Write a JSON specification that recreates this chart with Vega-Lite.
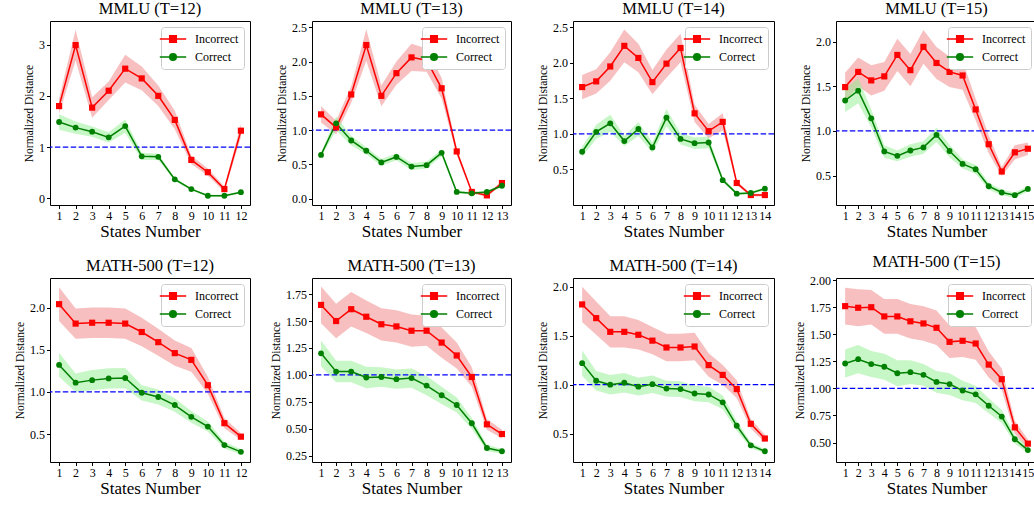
{
"$schema": "https://vega.github.io/schema/vega-lite/v6.json",
"background": "white",
"padding": {"left": 14, "top": 0, "right": 0, "bottom": 0},
"columns": 4,
"bounds": "flush",
"spacing": {"row": 73, "column": 62},
"resolve": {"scale": {"x": "independent", "y": "independent", "color": "independent"}, "legend": {"color": "independent"}, "axis": {"x": "independent", "y": "independent"}},
"datasets": {
"m12": [
{"state":1,"series":"Incorrect","value":1.80,"lower":1.65,"upper":1.95},
{"state":2,"series":"Incorrect","value":2.99,"lower":2.69,"upper":3.29},
{"state":3,"series":"Incorrect","value":1.77,"lower":1.57,"upper":1.97},
{"state":4,"series":"Incorrect","value":2.10,"lower":1.92,"upper":2.28},
{"state":5,"series":"Incorrect","value":2.53,"lower":2.26,"upper":2.80},
{"state":6,"series":"Incorrect","value":2.34,"lower":2.11,"upper":2.57},
{"state":7,"series":"Incorrect","value":2.00,"lower":1.80,"upper":2.20},
{"state":8,"series":"Incorrect","value":1.53,"lower":1.35,"upper":1.71},
{"state":9,"series":"Incorrect","value":0.75,"lower":0.67,"upper":0.83},
{"state":10,"series":"Incorrect","value":0.51,"lower":0.44,"upper":0.58},
{"state":11,"series":"Incorrect","value":0.18,"lower":0.13,"upper":0.23},
{"state":12,"series":"Incorrect","value":1.32,"lower":1.19,"upper":1.45},
{"state":1,"series":"Correct","value":1.49,"lower":1.34,"upper":1.64},
{"state":2,"series":"Correct","value":1.38,"lower":1.26,"upper":1.50},
{"state":3,"series":"Correct","value":1.30,"lower":1.20,"upper":1.40},
{"state":4,"series":"Correct","value":1.19,"lower":1.09,"upper":1.29},
{"state":5,"series":"Correct","value":1.41,"lower":1.28,"upper":1.54},
{"state":6,"series":"Correct","value":0.82,"lower":0.75,"upper":0.89},
{"state":7,"series":"Correct","value":0.81,"lower":0.75,"upper":0.87},
{"state":8,"series":"Correct","value":0.37,"lower":0.34,"upper":0.40},
{"state":9,"series":"Correct","value":0.18,"lower":0.16,"upper":0.20},
{"state":10,"series":"Correct","value":0.05,"lower":0.03,"upper":0.07},
{"state":11,"series":"Correct","value":0.05,"lower":0.03,"upper":0.07},
{"state":12,"series":"Correct","value":0.12,"lower":0.10,"upper":0.14}
],
"m13": [
{"state":1,"series":"Incorrect","value":1.23,"lower":1.11,"upper":1.35},
{"state":2,"series":"Incorrect","value":1.04,"lower":0.94,"upper":1.14},
{"state":3,"series":"Incorrect","value":1.52,"lower":1.40,"upper":1.64},
{"state":4,"series":"Incorrect","value":2.24,"lower":2.01,"upper":2.47},
{"state":5,"series":"Incorrect","value":1.50,"lower":1.35,"upper":1.65},
{"state":6,"series":"Incorrect","value":1.83,"lower":1.66,"upper":2.00},
{"state":7,"series":"Incorrect","value":2.06,"lower":1.86,"upper":2.26},
{"state":8,"series":"Incorrect","value":2.02,"lower":1.85,"upper":2.19},
{"state":9,"series":"Incorrect","value":1.61,"lower":1.46,"upper":1.76},
{"state":10,"series":"Incorrect","value":0.69,"lower":0.64,"upper":0.74},
{"state":11,"series":"Incorrect","value":0.10,"lower":0.08,"upper":0.12},
{"state":12,"series":"Incorrect","value":0.05,"lower":0.03,"upper":0.07},
{"state":13,"series":"Incorrect","value":0.23,"lower":0.20,"upper":0.26},
{"state":1,"series":"Correct","value":0.64,"lower":0.61,"upper":0.67},
{"state":2,"series":"Correct","value":1.10,"lower":1.00,"upper":1.20},
{"state":3,"series":"Correct","value":0.85,"lower":0.78,"upper":0.92},
{"state":4,"series":"Correct","value":0.70,"lower":0.65,"upper":0.75},
{"state":5,"series":"Correct","value":0.53,"lower":0.48,"upper":0.58},
{"state":6,"series":"Correct","value":0.61,"lower":0.56,"upper":0.66},
{"state":7,"series":"Correct","value":0.47,"lower":0.42,"upper":0.52},
{"state":8,"series":"Correct","value":0.49,"lower":0.44,"upper":0.54},
{"state":9,"series":"Correct","value":0.67,"lower":0.62,"upper":0.72},
{"state":10,"series":"Correct","value":0.10,"lower":0.08,"upper":0.12},
{"state":11,"series":"Correct","value":0.08,"lower":0.06,"upper":0.10},
{"state":12,"series":"Correct","value":0.10,"lower":0.08,"upper":0.12},
{"state":13,"series":"Correct","value":0.19,"lower":0.17,"upper":0.21}
],
"m14": [
{"state":1,"series":"Incorrect","value":1.66,"lower":1.49,"upper":1.83},
{"state":2,"series":"Incorrect","value":1.74,"lower":1.57,"upper":1.91},
{"state":3,"series":"Incorrect","value":1.95,"lower":1.75,"upper":2.15},
{"state":4,"series":"Incorrect","value":2.24,"lower":2.01,"upper":2.47},
{"state":5,"series":"Incorrect","value":2.07,"lower":1.87,"upper":2.27},
{"state":6,"series":"Incorrect","value":1.73,"lower":1.56,"upper":1.90},
{"state":7,"series":"Incorrect","value":1.99,"lower":1.79,"upper":2.19},
{"state":8,"series":"Incorrect","value":2.21,"lower":2.01,"upper":2.41},
{"state":9,"series":"Incorrect","value":1.29,"lower":1.17,"upper":1.41},
{"state":10,"series":"Incorrect","value":1.04,"lower":0.94,"upper":1.14},
{"state":11,"series":"Incorrect","value":1.17,"lower":1.05,"upper":1.29},
{"state":12,"series":"Incorrect","value":0.31,"lower":0.28,"upper":0.34},
{"state":13,"series":"Incorrect","value":0.14,"lower":0.12,"upper":0.16},
{"state":14,"series":"Incorrect","value":0.14,"lower":0.12,"upper":0.16},
{"state":1,"series":"Correct","value":0.75,"lower":0.68,"upper":0.82},
{"state":2,"series":"Correct","value":1.03,"lower":0.93,"upper":1.13},
{"state":3,"series":"Correct","value":1.15,"lower":1.03,"upper":1.27},
{"state":4,"series":"Correct","value":0.90,"lower":0.83,"upper":0.97},
{"state":5,"series":"Correct","value":1.07,"lower":0.97,"upper":1.17},
{"state":6,"series":"Correct","value":0.81,"lower":0.74,"upper":0.88},
{"state":7,"series":"Correct","value":1.23,"lower":1.11,"upper":1.35},
{"state":8,"series":"Correct","value":0.93,"lower":0.85,"upper":1.01},
{"state":9,"series":"Correct","value":0.87,"lower":0.79,"upper":0.95},
{"state":10,"series":"Correct","value":0.88,"lower":0.80,"upper":0.96},
{"state":11,"series":"Correct","value":0.35,"lower":0.32,"upper":0.38},
{"state":12,"series":"Correct","value":0.16,"lower":0.14,"upper":0.18},
{"state":13,"series":"Correct","value":0.17,"lower":0.15,"upper":0.19},
{"state":14,"series":"Correct","value":0.23,"lower":0.21,"upper":0.25}
],
"m15": [
{"state":1,"series":"Incorrect","value":1.49,"lower":1.33,"upper":1.65},
{"state":2,"series":"Incorrect","value":1.66,"lower":1.50,"upper":1.82},
{"state":3,"series":"Incorrect","value":1.565,"lower":1.395,"upper":1.735},
{"state":4,"series":"Incorrect","value":1.61,"lower":1.45,"upper":1.77},
{"state":5,"series":"Incorrect","value":1.85,"lower":1.67,"upper":2.03},
{"state":6,"series":"Incorrect","value":1.68,"lower":1.50,"upper":1.86},
{"state":7,"series":"Incorrect","value":1.94,"lower":1.75,"upper":2.13},
{"state":8,"series":"Incorrect","value":1.76,"lower":1.58,"upper":1.94},
{"state":9,"series":"Incorrect","value":1.66,"lower":1.49,"upper":1.83},
{"state":10,"series":"Incorrect","value":1.62,"lower":1.46,"upper":1.78},
{"state":11,"series":"Incorrect","value":1.24,"lower":1.12,"upper":1.36},
{"state":12,"series":"Incorrect","value":0.85,"lower":0.75,"upper":0.95},
{"state":13,"series":"Incorrect","value":0.545,"lower":0.495,"upper":0.595},
{"state":14,"series":"Incorrect","value":0.76,"lower":0.68,"upper":0.84},
{"state":15,"series":"Incorrect","value":0.80,"lower":0.73,"upper":0.87},
{"state":1,"series":"Correct","value":1.34,"lower":1.21,"upper":1.47},
{"state":2,"series":"Correct","value":1.45,"lower":1.31,"upper":1.59},
{"state":3,"series":"Correct","value":1.14,"lower":1.04,"upper":1.24},
{"state":4,"series":"Correct","value":0.77,"lower":0.70,"upper":0.84},
{"state":5,"series":"Correct","value":0.72,"lower":0.66,"upper":0.78},
{"state":6,"series":"Correct","value":0.78,"lower":0.71,"upper":0.85},
{"state":7,"series":"Correct","value":0.815,"lower":0.745,"upper":0.885},
{"state":8,"series":"Correct","value":0.955,"lower":0.875,"upper":1.035},
{"state":9,"series":"Correct","value":0.775,"lower":0.705,"upper":0.845},
{"state":10,"series":"Correct","value":0.63,"lower":0.58,"upper":0.68},
{"state":11,"series":"Correct","value":0.57,"lower":0.52,"upper":0.62},
{"state":12,"series":"Correct","value":0.38,"lower":0.34,"upper":0.42},
{"state":13,"series":"Correct","value":0.31,"lower":0.28,"upper":0.34},
{"state":14,"series":"Correct","value":0.28,"lower":0.25,"upper":0.31},
{"state":15,"series":"Correct","value":0.35,"lower":0.32,"upper":0.38}
],
"h12": [
{"state":1,"series":"Incorrect","value":2.04,"lower":1.84,"upper":2.24},
{"state":2,"series":"Incorrect","value":1.81,"lower":1.63,"upper":1.99},
{"state":3,"series":"Incorrect","value":1.82,"lower":1.64,"upper":2.00},
{"state":4,"series":"Incorrect","value":1.82,"lower":1.64,"upper":2.00},
{"state":5,"series":"Incorrect","value":1.81,"lower":1.63,"upper":1.99},
{"state":6,"series":"Incorrect","value":1.71,"lower":1.54,"upper":1.88},
{"state":7,"series":"Incorrect","value":1.59,"lower":1.43,"upper":1.75},
{"state":8,"series":"Incorrect","value":1.46,"lower":1.31,"upper":1.61},
{"state":9,"series":"Incorrect","value":1.38,"lower":1.24,"upper":1.52},
{"state":10,"series":"Incorrect","value":1.08,"lower":0.98,"upper":1.18},
{"state":11,"series":"Incorrect","value":0.63,"lower":0.57,"upper":0.69},
{"state":12,"series":"Incorrect","value":0.47,"lower":0.43,"upper":0.51},
{"state":1,"series":"Correct","value":1.32,"lower":1.18,"upper":1.46},
{"state":2,"series":"Correct","value":1.11,"lower":1.00,"upper":1.22},
{"state":3,"series":"Correct","value":1.14,"lower":1.02,"upper":1.26},
{"state":4,"series":"Correct","value":1.16,"lower":1.04,"upper":1.28},
{"state":5,"series":"Correct","value":1.165,"lower":1.045,"upper":1.285},
{"state":6,"series":"Correct","value":0.99,"lower":0.90,"upper":1.08},
{"state":7,"series":"Correct","value":0.94,"lower":0.85,"upper":1.03},
{"state":8,"series":"Correct","value":0.845,"lower":0.765,"upper":0.925},
{"state":9,"series":"Correct","value":0.705,"lower":0.635,"upper":0.775},
{"state":10,"series":"Correct","value":0.59,"lower":0.53,"upper":0.65},
{"state":11,"series":"Correct","value":0.37,"lower":0.33,"upper":0.41},
{"state":12,"series":"Correct","value":0.29,"lower":0.26,"upper":0.32}
],
"h13": [
{"state":1,"series":"Incorrect","value":1.65,"lower":1.48,"upper":1.82},
{"state":2,"series":"Incorrect","value":1.50,"lower":1.34,"upper":1.66},
{"state":3,"series":"Incorrect","value":1.61,"lower":1.45,"upper":1.77},
{"state":4,"series":"Incorrect","value":1.54,"lower":1.39,"upper":1.69},
{"state":5,"series":"Incorrect","value":1.47,"lower":1.32,"upper":1.62},
{"state":6,"series":"Incorrect","value":1.45,"lower":1.30,"upper":1.60},
{"state":7,"series":"Incorrect","value":1.41,"lower":1.26,"upper":1.56},
{"state":8,"series":"Incorrect","value":1.41,"lower":1.27,"upper":1.55},
{"state":9,"series":"Incorrect","value":1.30,"lower":1.16,"upper":1.44},
{"state":10,"series":"Incorrect","value":1.18,"lower":1.06,"upper":1.30},
{"state":11,"series":"Incorrect","value":0.98,"lower":0.89,"upper":1.07},
{"state":12,"series":"Incorrect","value":0.54,"lower":0.49,"upper":0.59},
{"state":13,"series":"Incorrect","value":0.45,"lower":0.41,"upper":0.49},
{"state":1,"series":"Correct","value":1.20,"lower":1.08,"upper":1.32},
{"state":2,"series":"Correct","value":1.03,"lower":0.93,"upper":1.13},
{"state":3,"series":"Correct","value":1.03,"lower":0.93,"upper":1.13},
{"state":4,"series":"Correct","value":0.975,"lower":0.875,"upper":1.075},
{"state":5,"series":"Correct","value":0.98,"lower":0.89,"upper":1.07},
{"state":6,"series":"Correct","value":0.96,"lower":0.87,"upper":1.05},
{"state":7,"series":"Correct","value":0.97,"lower":0.88,"upper":1.06},
{"state":8,"series":"Correct","value":0.90,"lower":0.81,"upper":0.99},
{"state":9,"series":"Correct","value":0.81,"lower":0.73,"upper":0.89},
{"state":10,"series":"Correct","value":0.72,"lower":0.65,"upper":0.79},
{"state":11,"series":"Correct","value":0.55,"lower":0.50,"upper":0.60},
{"state":12,"series":"Correct","value":0.32,"lower":0.29,"upper":0.35},
{"state":13,"series":"Correct","value":0.29,"lower":0.27,"upper":0.31}
],
"h14": [
{"state":1,"series":"Incorrect","value":1.82,"lower":1.64,"upper":2.00},
{"state":2,"series":"Incorrect","value":1.68,"lower":1.51,"upper":1.85},
{"state":3,"series":"Incorrect","value":1.54,"lower":1.38,"upper":1.70},
{"state":4,"series":"Incorrect","value":1.54,"lower":1.38,"upper":1.70},
{"state":5,"series":"Incorrect","value":1.51,"lower":1.36,"upper":1.66},
{"state":6,"series":"Incorrect","value":1.45,"lower":1.31,"upper":1.59},
{"state":7,"series":"Incorrect","value":1.38,"lower":1.24,"upper":1.52},
{"state":8,"series":"Incorrect","value":1.38,"lower":1.24,"upper":1.52},
{"state":9,"series":"Incorrect","value":1.39,"lower":1.25,"upper":1.53},
{"state":10,"series":"Incorrect","value":1.20,"lower":1.08,"upper":1.32},
{"state":11,"series":"Incorrect","value":1.10,"lower":1.00,"upper":1.20},
{"state":12,"series":"Incorrect","value":0.955,"lower":0.865,"upper":1.045},
{"state":13,"series":"Incorrect","value":0.60,"lower":0.55,"upper":0.65},
{"state":14,"series":"Incorrect","value":0.45,"lower":0.41,"upper":0.49},
{"state":1,"series":"Correct","value":1.22,"lower":1.09,"upper":1.35},
{"state":2,"series":"Correct","value":1.04,"lower":0.94,"upper":1.14},
{"state":3,"series":"Correct","value":1.00,"lower":0.90,"upper":1.10},
{"state":4,"series":"Correct","value":1.02,"lower":0.92,"upper":1.12},
{"state":5,"series":"Correct","value":0.98,"lower":0.89,"upper":1.07},
{"state":6,"series":"Correct","value":1.005,"lower":0.915,"upper":1.095},
{"state":7,"series":"Correct","value":0.96,"lower":0.88,"upper":1.04},
{"state":8,"series":"Correct","value":0.955,"lower":0.875,"upper":1.035},
{"state":9,"series":"Correct","value":0.91,"lower":0.83,"upper":0.99},
{"state":10,"series":"Correct","value":0.90,"lower":0.82,"upper":0.98},
{"state":11,"series":"Correct","value":0.82,"lower":0.75,"upper":0.89},
{"state":12,"series":"Correct","value":0.58,"lower":0.53,"upper":0.63},
{"state":13,"series":"Correct","value":0.38,"lower":0.35,"upper":0.41},
{"state":14,"series":"Correct","value":0.32,"lower":0.30,"upper":0.34}
],
"h15": [
{"state":1,"series":"Incorrect","value":1.76,"lower":1.59,"upper":1.93},
{"state":2,"series":"Incorrect","value":1.745,"lower":1.575,"upper":1.915},
{"state":3,"series":"Incorrect","value":1.75,"lower":1.59,"upper":1.91},
{"state":4,"series":"Incorrect","value":1.665,"lower":1.505,"upper":1.825},
{"state":5,"series":"Incorrect","value":1.665,"lower":1.505,"upper":1.825},
{"state":6,"series":"Incorrect","value":1.62,"lower":1.46,"upper":1.78},
{"state":7,"series":"Incorrect","value":1.60,"lower":1.44,"upper":1.76},
{"state":8,"series":"Incorrect","value":1.56,"lower":1.40,"upper":1.72},
{"state":9,"series":"Incorrect","value":1.43,"lower":1.28,"upper":1.58},
{"state":10,"series":"Incorrect","value":1.44,"lower":1.29,"upper":1.59},
{"state":11,"series":"Incorrect","value":1.415,"lower":1.265,"upper":1.565},
{"state":12,"series":"Incorrect","value":1.22,"lower":1.10,"upper":1.34},
{"state":13,"series":"Incorrect","value":1.085,"lower":0.985,"upper":1.185},
{"state":14,"series":"Incorrect","value":0.64,"lower":0.58,"upper":0.70},
{"state":15,"series":"Incorrect","value":0.49,"lower":0.45,"upper":0.53},
{"state":1,"series":"Correct","value":1.23,"lower":1.10,"upper":1.36},
{"state":2,"series":"Correct","value":1.27,"lower":1.14,"upper":1.40},
{"state":3,"series":"Correct","value":1.225,"lower":1.105,"upper":1.345},
{"state":4,"series":"Correct","value":1.20,"lower":1.08,"upper":1.32},
{"state":5,"series":"Correct","value":1.14,"lower":1.02,"upper":1.26},
{"state":6,"series":"Correct","value":1.15,"lower":1.04,"upper":1.26},
{"state":7,"series":"Correct","value":1.125,"lower":1.025,"upper":1.225},
{"state":8,"series":"Correct","value":1.06,"lower":0.96,"upper":1.16},
{"state":9,"series":"Correct","value":1.04,"lower":0.94,"upper":1.14},
{"state":10,"series":"Correct","value":0.98,"lower":0.89,"upper":1.07},
{"state":11,"series":"Correct","value":0.945,"lower":0.865,"upper":1.025},
{"state":12,"series":"Correct","value":0.84,"lower":0.77,"upper":0.91},
{"state":13,"series":"Correct","value":0.74,"lower":0.68,"upper":0.80},
{"state":14,"series":"Correct","value":0.53,"lower":0.49,"upper":0.57},
{"state":15,"series":"Correct","value":0.43,"lower":0.40,"upper":0.46}
]
},
"concat": [
{"title": "MMLU (T=12)", "width": 200, "height": 184, "data": {"name": "m12"},
 "layer": [
  {"transform": [{"filter": "datum.series === 'Incorrect'"}], "mark": {"type": "area", "color": "#f08080", "opacity": 0.5}, "encoding": {
    "x": {"field": "state", "type": "quantitative", "title": "States Number", "scale": {"domain": [0.45, 12.55], "nice": false, "zero": false}, "axis": {"values": [1,2,3,4,5,6,7,8,9,10,11,12], "format": "d"}},
    "y": {"field": "lower", "type": "quantitative", "title": "Normalized Distance", "stack": null, "scale": {"domain": [-0.13, 3.46], "nice": false, "zero": false}, "axis": {"values": [0,1,2,3], "format": "d"}},
    "y2": {"field": "upper"}}},
  {"transform": [{"filter": "datum.series === 'Correct'"}], "mark": {"type": "area", "color": "#90ee90", "opacity": 0.5}, "encoding": {
    "x": {"field": "state", "type": "quantitative", "title": "States Number", "scale": {"domain": [0.45, 12.55], "nice": false, "zero": false}, "axis": {"values": [1,2,3,4,5,6,7,8,9,10,11,12], "format": "d"}},
    "y": {"field": "lower", "type": "quantitative", "title": "Normalized Distance", "stack": null, "scale": {"domain": [-0.13, 3.46], "nice": false, "zero": false}, "axis": {"values": [0,1,2,3], "format": "d"}},
    "y2": {"field": "upper"}}},
  {"data": {"values": [{"ref": 1}]}, "mark": {"type": "rule", "color": "#0000ff", "strokeDash": [5.5, 2.4], "strokeWidth": 1.3}, "encoding": {"y": {"field": "ref", "type": "quantitative", "title": "Normalized Distance", "scale": {"domain": [-0.13, 3.46], "nice": false, "zero": false}, "axis": {"values": [0,1,2,3], "format": "d"}}}},
  {"mark": {"type": "line", "strokeWidth": 1.5}, "encoding": {
    "x": {"field": "state", "type": "quantitative", "title": "States Number", "scale": {"domain": [0.45, 12.55], "nice": false, "zero": false}, "axis": {"values": [1,2,3,4,5,6,7,8,9,10,11,12], "format": "d"}},
    "y": {"field": "value", "type": "quantitative", "title": "Normalized Distance", "scale": {"domain": [-0.13, 3.46], "nice": false, "zero": false}, "axis": {"values": [0,1,2,3], "format": "d"}},
    "color": {"field": "series", "type": "nominal", "title": null, "scale": {"domain": ["Incorrect","Correct"], "range": ["#ff0000","#008000"]}, "legend": {"title": null, "orient": "top-right", "offset": 6, "padding": 5, "fillColor": "white", "strokeColor": "#cccccc", "cornerRadius": 3, "labelFont": "Liberation Serif", "labelFontSize": 12, "labelColor": "black", "symbolSize": 144, "labelOffset": 15, "rowPadding": 4, "encode": {"legend": {"update": {"stroke": {"value": "#cccccc"}, "strokeWidth": {"value": 1}, "fill": {"value": "#ffffff"}, "cornerRadius": {"value": 3}}}, "labels": {"update": {"font": {"value": "Liberation Serif"}, "fontSize": {"value": 12}, "fill": {"value": "#000000"}}}, "symbols": {"update": {"shape": {"signal": "datum.value === 'Incorrect' ? 'M-2.2,0H2.2M-0.55,-0.55H0.55V0.55H-0.55Z' : 'M-2.2,0H2.2M0.55,0A0.55,0.55 0 1,1 -0.55,0A0.55,0.55 0 1,1 0.55,0Z'"}, "fill": {"signal": "datum.value === 'Incorrect' ? '#ff0000' : '#008000'"}, "stroke": {"signal": "datum.value === 'Incorrect' ? '#ff0000' : '#008000'"}, "strokeWidth": {"value": 1.5}, "size": {"value": 144}, "opacity": {"value": 1}}}}}}}},
  {"transform": [{"filter": "datum.series === 'Incorrect'"}], "mark": {"type": "point", "shape": "square", "filled": true, "color": "#ff0000", "opacity": 1, "size": 38}, "encoding": {
    "x": {"field": "state", "type": "quantitative", "title": "States Number", "scale": {"domain": [0.45, 12.55], "nice": false, "zero": false}, "axis": {"values": [1,2,3,4,5,6,7,8,9,10,11,12], "format": "d"}},
    "y": {"field": "value", "type": "quantitative", "title": "Normalized Distance", "scale": {"domain": [-0.13, 3.46], "nice": false, "zero": false}, "axis": {"values": [0,1,2,3], "format": "d"}}}},
  {"transform": [{"filter": "datum.series === 'Correct'"}], "mark": {"type": "point", "shape": "circle", "filled": true, "color": "#008000", "opacity": 1, "size": 34}, "encoding": {
    "x": {"field": "state", "type": "quantitative", "title": "States Number", "scale": {"domain": [0.45, 12.55], "nice": false, "zero": false}, "axis": {"values": [1,2,3,4,5,6,7,8,9,10,11,12], "format": "d"}},
    "y": {"field": "value", "type": "quantitative", "title": "Normalized Distance", "scale": {"domain": [-0.13, 3.46], "nice": false, "zero": false}, "axis": {"values": [0,1,2,3], "format": "d"}}}}
 ]},
{"title": "MMLU (T=13)", "width": 199, "height": 184, "data": {"name": "m13"},
 "layer": [
  {"transform": [{"filter": "datum.series === 'Incorrect'"}], "mark": {"type": "area", "color": "#f08080", "opacity": 0.5}, "encoding": {
    "x": {"field": "state", "type": "quantitative", "title": "States Number", "scale": {"domain": [0.4, 13.6], "nice": false, "zero": false}, "axis": {"values": [1,2,3,4,5,6,7,8,9,10,11,12,13], "format": "d"}},
    "y": {"field": "lower", "type": "quantitative", "title": "Normalized Distance", "stack": null, "scale": {"domain": [-0.09, 2.59], "nice": false, "zero": false}, "axis": {"values": [0,0.5,1,1.5,2,2.5], "format": ".1f"}},
    "y2": {"field": "upper"}}},
  {"transform": [{"filter": "datum.series === 'Correct'"}], "mark": {"type": "area", "color": "#90ee90", "opacity": 0.5}, "encoding": {
    "x": {"field": "state", "type": "quantitative", "title": "States Number", "scale": {"domain": [0.4, 13.6], "nice": false, "zero": false}, "axis": {"values": [1,2,3,4,5,6,7,8,9,10,11,12,13], "format": "d"}},
    "y": {"field": "lower", "type": "quantitative", "title": "Normalized Distance", "stack": null, "scale": {"domain": [-0.09, 2.59], "nice": false, "zero": false}, "axis": {"values": [0,0.5,1,1.5,2,2.5], "format": ".1f"}},
    "y2": {"field": "upper"}}},
  {"data": {"values": [{"ref": 1}]}, "mark": {"type": "rule", "color": "#0000ff", "strokeDash": [5.5, 2.4], "strokeWidth": 1.3}, "encoding": {"y": {"field": "ref", "type": "quantitative", "title": "Normalized Distance", "scale": {"domain": [-0.09, 2.59], "nice": false, "zero": false}, "axis": {"values": [0,0.5,1,1.5,2,2.5], "format": ".1f"}}}},
  {"mark": {"type": "line", "strokeWidth": 1.5}, "encoding": {
    "x": {"field": "state", "type": "quantitative", "title": "States Number", "scale": {"domain": [0.4, 13.6], "nice": false, "zero": false}, "axis": {"values": [1,2,3,4,5,6,7,8,9,10,11,12,13], "format": "d"}},
    "y": {"field": "value", "type": "quantitative", "title": "Normalized Distance", "scale": {"domain": [-0.09, 2.59], "nice": false, "zero": false}, "axis": {"values": [0,0.5,1,1.5,2,2.5], "format": ".1f"}},
    "color": {"field": "series", "type": "nominal", "title": null, "scale": {"domain": ["Incorrect","Correct"], "range": ["#ff0000","#008000"]}, "legend": {"title": null, "orient": "top-right", "offset": 6, "padding": 5, "fillColor": "white", "strokeColor": "#cccccc", "cornerRadius": 3, "labelFont": "Liberation Serif", "labelFontSize": 12, "labelColor": "black", "symbolSize": 144, "labelOffset": 15, "rowPadding": 4, "encode": {"legend": {"update": {"stroke": {"value": "#cccccc"}, "strokeWidth": {"value": 1}, "fill": {"value": "#ffffff"}, "cornerRadius": {"value": 3}}}, "labels": {"update": {"font": {"value": "Liberation Serif"}, "fontSize": {"value": 12}, "fill": {"value": "#000000"}}}, "symbols": {"update": {"shape": {"signal": "datum.value === 'Incorrect' ? 'M-2.2,0H2.2M-0.55,-0.55H0.55V0.55H-0.55Z' : 'M-2.2,0H2.2M0.55,0A0.55,0.55 0 1,1 -0.55,0A0.55,0.55 0 1,1 0.55,0Z'"}, "fill": {"signal": "datum.value === 'Incorrect' ? '#ff0000' : '#008000'"}, "stroke": {"signal": "datum.value === 'Incorrect' ? '#ff0000' : '#008000'"}, "strokeWidth": {"value": 1.5}, "size": {"value": 144}, "opacity": {"value": 1}}}}}}}},
  {"transform": [{"filter": "datum.series === 'Incorrect'"}], "mark": {"type": "point", "shape": "square", "filled": true, "color": "#ff0000", "opacity": 1, "size": 38}, "encoding": {
    "x": {"field": "state", "type": "quantitative", "title": "States Number", "scale": {"domain": [0.4, 13.6], "nice": false, "zero": false}, "axis": {"values": [1,2,3,4,5,6,7,8,9,10,11,12,13], "format": "d"}},
    "y": {"field": "value", "type": "quantitative", "title": "Normalized Distance", "scale": {"domain": [-0.09, 2.59], "nice": false, "zero": false}, "axis": {"values": [0,0.5,1,1.5,2,2.5], "format": ".1f"}}}},
  {"transform": [{"filter": "datum.series === 'Correct'"}], "mark": {"type": "point", "shape": "circle", "filled": true, "color": "#008000", "opacity": 1, "size": 34}, "encoding": {
    "x": {"field": "state", "type": "quantitative", "title": "States Number", "scale": {"domain": [0.4, 13.6], "nice": false, "zero": false}, "axis": {"values": [1,2,3,4,5,6,7,8,9,10,11,12,13], "format": "d"}},
    "y": {"field": "value", "type": "quantitative", "title": "Normalized Distance", "scale": {"domain": [-0.09, 2.59], "nice": false, "zero": false}, "axis": {"values": [0,0.5,1,1.5,2,2.5], "format": ".1f"}}}}
 ]},
{"title": "MMLU (T=14)", "width": 201, "height": 184, "data": {"name": "m14"},
 "layer": [
  {"transform": [{"filter": "datum.series === 'Incorrect'"}], "mark": {"type": "area", "color": "#f08080", "opacity": 0.5}, "encoding": {
    "x": {"field": "state", "type": "quantitative", "title": "States Number", "scale": {"domain": [0.35, 14.65], "nice": false, "zero": false}, "axis": {"values": [1,2,3,4,5,6,7,8,9,10,11,12,13,14], "format": "d"}},
    "y": {"field": "lower", "type": "quantitative", "title": "Normalized Distance", "stack": null, "scale": {"domain": [0.0, 2.59], "nice": false, "zero": false}, "axis": {"values": [0.5,1,1.5,2,2.5], "format": ".1f"}},
    "y2": {"field": "upper"}}},
  {"transform": [{"filter": "datum.series === 'Correct'"}], "mark": {"type": "area", "color": "#90ee90", "opacity": 0.5}, "encoding": {
    "x": {"field": "state", "type": "quantitative", "title": "States Number", "scale": {"domain": [0.35, 14.65], "nice": false, "zero": false}, "axis": {"values": [1,2,3,4,5,6,7,8,9,10,11,12,13,14], "format": "d"}},
    "y": {"field": "lower", "type": "quantitative", "title": "Normalized Distance", "stack": null, "scale": {"domain": [0.0, 2.59], "nice": false, "zero": false}, "axis": {"values": [0.5,1,1.5,2,2.5], "format": ".1f"}},
    "y2": {"field": "upper"}}},
  {"data": {"values": [{"ref": 1}]}, "mark": {"type": "rule", "color": "#0000ff", "strokeDash": [5.5, 2.4], "strokeWidth": 1.3}, "encoding": {"y": {"field": "ref", "type": "quantitative", "title": "Normalized Distance", "scale": {"domain": [0.0, 2.59], "nice": false, "zero": false}, "axis": {"values": [0.5,1,1.5,2,2.5], "format": ".1f"}}}},
  {"mark": {"type": "line", "strokeWidth": 1.5}, "encoding": {
    "x": {"field": "state", "type": "quantitative", "title": "States Number", "scale": {"domain": [0.35, 14.65], "nice": false, "zero": false}, "axis": {"values": [1,2,3,4,5,6,7,8,9,10,11,12,13,14], "format": "d"}},
    "y": {"field": "value", "type": "quantitative", "title": "Normalized Distance", "scale": {"domain": [0.0, 2.59], "nice": false, "zero": false}, "axis": {"values": [0.5,1,1.5,2,2.5], "format": ".1f"}},
    "color": {"field": "series", "type": "nominal", "title": null, "scale": {"domain": ["Incorrect","Correct"], "range": ["#ff0000","#008000"]}, "legend": {"title": null, "orient": "top-right", "offset": 6, "padding": 5, "fillColor": "white", "strokeColor": "#cccccc", "cornerRadius": 3, "labelFont": "Liberation Serif", "labelFontSize": 12, "labelColor": "black", "symbolSize": 144, "labelOffset": 15, "rowPadding": 4, "encode": {"legend": {"update": {"stroke": {"value": "#cccccc"}, "strokeWidth": {"value": 1}, "fill": {"value": "#ffffff"}, "cornerRadius": {"value": 3}}}, "labels": {"update": {"font": {"value": "Liberation Serif"}, "fontSize": {"value": 12}, "fill": {"value": "#000000"}}}, "symbols": {"update": {"shape": {"signal": "datum.value === 'Incorrect' ? 'M-2.2,0H2.2M-0.55,-0.55H0.55V0.55H-0.55Z' : 'M-2.2,0H2.2M0.55,0A0.55,0.55 0 1,1 -0.55,0A0.55,0.55 0 1,1 0.55,0Z'"}, "fill": {"signal": "datum.value === 'Incorrect' ? '#ff0000' : '#008000'"}, "stroke": {"signal": "datum.value === 'Incorrect' ? '#ff0000' : '#008000'"}, "strokeWidth": {"value": 1.5}, "size": {"value": 144}, "opacity": {"value": 1}}}}}}}},
  {"transform": [{"filter": "datum.series === 'Incorrect'"}], "mark": {"type": "point", "shape": "square", "filled": true, "color": "#ff0000", "opacity": 1, "size": 38}, "encoding": {
    "x": {"field": "state", "type": "quantitative", "title": "States Number", "scale": {"domain": [0.35, 14.65], "nice": false, "zero": false}, "axis": {"values": [1,2,3,4,5,6,7,8,9,10,11,12,13,14], "format": "d"}},
    "y": {"field": "value", "type": "quantitative", "title": "Normalized Distance", "scale": {"domain": [0.0, 2.59], "nice": false, "zero": false}, "axis": {"values": [0.5,1,1.5,2,2.5], "format": ".1f"}}}},
  {"transform": [{"filter": "datum.series === 'Correct'"}], "mark": {"type": "point", "shape": "circle", "filled": true, "color": "#008000", "opacity": 1, "size": 34}, "encoding": {
    "x": {"field": "state", "type": "quantitative", "title": "States Number", "scale": {"domain": [0.35, 14.65], "nice": false, "zero": false}, "axis": {"values": [1,2,3,4,5,6,7,8,9,10,11,12,13,14], "format": "d"}},
    "y": {"field": "value", "type": "quantitative", "title": "Normalized Distance", "scale": {"domain": [0.0, 2.59], "nice": false, "zero": false}, "axis": {"values": [0.5,1,1.5,2,2.5], "format": ".1f"}}}}
 ]},
{"title": "MMLU (T=15)", "width": 201, "height": 184, "data": {"name": "m15"},
 "layer": [
  {"transform": [{"filter": "datum.series === 'Incorrect'"}], "mark": {"type": "area", "color": "#f08080", "opacity": 0.5}, "encoding": {
    "x": {"field": "state", "type": "quantitative", "title": "States Number", "scale": {"domain": [0.3, 15.7], "nice": false, "zero": false}, "axis": {"values": [1,2,3,4,5,6,7,8,9,10,11,12,13,14,15], "format": "d"}},
    "y": {"field": "lower", "type": "quantitative", "title": "Normalized Distance", "stack": null, "scale": {"domain": [0.17, 2.23], "nice": false, "zero": false}, "axis": {"values": [0.5,1,1.5,2], "format": ".1f"}},
    "y2": {"field": "upper"}}},
  {"transform": [{"filter": "datum.series === 'Correct'"}], "mark": {"type": "area", "color": "#90ee90", "opacity": 0.5}, "encoding": {
    "x": {"field": "state", "type": "quantitative", "title": "States Number", "scale": {"domain": [0.3, 15.7], "nice": false, "zero": false}, "axis": {"values": [1,2,3,4,5,6,7,8,9,10,11,12,13,14,15], "format": "d"}},
    "y": {"field": "lower", "type": "quantitative", "title": "Normalized Distance", "stack": null, "scale": {"domain": [0.17, 2.23], "nice": false, "zero": false}, "axis": {"values": [0.5,1,1.5,2], "format": ".1f"}},
    "y2": {"field": "upper"}}},
  {"data": {"values": [{"ref": 1}]}, "mark": {"type": "rule", "color": "#0000ff", "strokeDash": [5.5, 2.4], "strokeWidth": 1.3}, "encoding": {"y": {"field": "ref", "type": "quantitative", "title": "Normalized Distance", "scale": {"domain": [0.17, 2.23], "nice": false, "zero": false}, "axis": {"values": [0.5,1,1.5,2], "format": ".1f"}}}},
  {"mark": {"type": "line", "strokeWidth": 1.5}, "encoding": {
    "x": {"field": "state", "type": "quantitative", "title": "States Number", "scale": {"domain": [0.3, 15.7], "nice": false, "zero": false}, "axis": {"values": [1,2,3,4,5,6,7,8,9,10,11,12,13,14,15], "format": "d"}},
    "y": {"field": "value", "type": "quantitative", "title": "Normalized Distance", "scale": {"domain": [0.17, 2.23], "nice": false, "zero": false}, "axis": {"values": [0.5,1,1.5,2], "format": ".1f"}},
    "color": {"field": "series", "type": "nominal", "title": null, "scale": {"domain": ["Incorrect","Correct"], "range": ["#ff0000","#008000"]}, "legend": {"title": null, "orient": "top-right", "offset": 6, "padding": 5, "fillColor": "white", "strokeColor": "#cccccc", "cornerRadius": 3, "labelFont": "Liberation Serif", "labelFontSize": 12, "labelColor": "black", "symbolSize": 144, "labelOffset": 15, "rowPadding": 4, "encode": {"legend": {"update": {"stroke": {"value": "#cccccc"}, "strokeWidth": {"value": 1}, "fill": {"value": "#ffffff"}, "cornerRadius": {"value": 3}}}, "labels": {"update": {"font": {"value": "Liberation Serif"}, "fontSize": {"value": 12}, "fill": {"value": "#000000"}}}, "symbols": {"update": {"shape": {"signal": "datum.value === 'Incorrect' ? 'M-2.2,0H2.2M-0.55,-0.55H0.55V0.55H-0.55Z' : 'M-2.2,0H2.2M0.55,0A0.55,0.55 0 1,1 -0.55,0A0.55,0.55 0 1,1 0.55,0Z'"}, "fill": {"signal": "datum.value === 'Incorrect' ? '#ff0000' : '#008000'"}, "stroke": {"signal": "datum.value === 'Incorrect' ? '#ff0000' : '#008000'"}, "strokeWidth": {"value": 1.5}, "size": {"value": 144}, "opacity": {"value": 1}}}}}}}},
  {"transform": [{"filter": "datum.series === 'Incorrect'"}], "mark": {"type": "point", "shape": "square", "filled": true, "color": "#ff0000", "opacity": 1, "size": 38}, "encoding": {
    "x": {"field": "state", "type": "quantitative", "title": "States Number", "scale": {"domain": [0.3, 15.7], "nice": false, "zero": false}, "axis": {"values": [1,2,3,4,5,6,7,8,9,10,11,12,13,14,15], "format": "d"}},
    "y": {"field": "value", "type": "quantitative", "title": "Normalized Distance", "scale": {"domain": [0.17, 2.23], "nice": false, "zero": false}, "axis": {"values": [0.5,1,1.5,2], "format": ".1f"}}}},
  {"transform": [{"filter": "datum.series === 'Correct'"}], "mark": {"type": "point", "shape": "circle", "filled": true, "color": "#008000", "opacity": 1, "size": 34}, "encoding": {
    "x": {"field": "state", "type": "quantitative", "title": "States Number", "scale": {"domain": [0.3, 15.7], "nice": false, "zero": false}, "axis": {"values": [1,2,3,4,5,6,7,8,9,10,11,12,13,14,15], "format": "d"}},
    "y": {"field": "value", "type": "quantitative", "title": "Normalized Distance", "scale": {"domain": [0.17, 2.23], "nice": false, "zero": false}, "axis": {"values": [0.5,1,1.5,2], "format": ".1f"}}}}
 ]},
{"title": "MATH-500 (T=12)", "width": 200, "height": 184, "data": {"name": "h12"},
 "layer": [
  {"transform": [{"filter": "datum.series === 'Incorrect'"}], "mark": {"type": "area", "color": "#f08080", "opacity": 0.5}, "encoding": {
    "x": {"field": "state", "type": "quantitative", "title": "States Number", "scale": {"domain": [0.45, 12.55], "nice": false, "zero": false}, "axis": {"values": [1,2,3,4,5,6,7,8,9,10,11,12], "format": "d"}},
    "y": {"field": "lower", "type": "quantitative", "title": "Normalized Distance", "stack": null, "scale": {"domain": [0.17, 2.35], "nice": false, "zero": false}, "axis": {"values": [0.5,1,1.5,2], "format": ".1f"}},
    "y2": {"field": "upper"}}},
  {"transform": [{"filter": "datum.series === 'Correct'"}], "mark": {"type": "area", "color": "#90ee90", "opacity": 0.5}, "encoding": {
    "x": {"field": "state", "type": "quantitative", "title": "States Number", "scale": {"domain": [0.45, 12.55], "nice": false, "zero": false}, "axis": {"values": [1,2,3,4,5,6,7,8,9,10,11,12], "format": "d"}},
    "y": {"field": "lower", "type": "quantitative", "title": "Normalized Distance", "stack": null, "scale": {"domain": [0.17, 2.35], "nice": false, "zero": false}, "axis": {"values": [0.5,1,1.5,2], "format": ".1f"}},
    "y2": {"field": "upper"}}},
  {"data": {"values": [{"ref": 1}]}, "mark": {"type": "rule", "color": "#0000ff", "strokeDash": [5.5, 2.4], "strokeWidth": 1.3}, "encoding": {"y": {"field": "ref", "type": "quantitative", "title": "Normalized Distance", "scale": {"domain": [0.17, 2.35], "nice": false, "zero": false}, "axis": {"values": [0.5,1,1.5,2], "format": ".1f"}}}},
  {"mark": {"type": "line", "strokeWidth": 1.5}, "encoding": {
    "x": {"field": "state", "type": "quantitative", "title": "States Number", "scale": {"domain": [0.45, 12.55], "nice": false, "zero": false}, "axis": {"values": [1,2,3,4,5,6,7,8,9,10,11,12], "format": "d"}},
    "y": {"field": "value", "type": "quantitative", "title": "Normalized Distance", "scale": {"domain": [0.17, 2.35], "nice": false, "zero": false}, "axis": {"values": [0.5,1,1.5,2], "format": ".1f"}},
    "color": {"field": "series", "type": "nominal", "title": null, "scale": {"domain": ["Incorrect","Correct"], "range": ["#ff0000","#008000"]}, "legend": {"title": null, "orient": "top-right", "offset": 6, "padding": 5, "fillColor": "white", "strokeColor": "#cccccc", "cornerRadius": 3, "labelFont": "Liberation Serif", "labelFontSize": 12, "labelColor": "black", "symbolSize": 144, "labelOffset": 15, "rowPadding": 4, "encode": {"legend": {"update": {"stroke": {"value": "#cccccc"}, "strokeWidth": {"value": 1}, "fill": {"value": "#ffffff"}, "cornerRadius": {"value": 3}}}, "labels": {"update": {"font": {"value": "Liberation Serif"}, "fontSize": {"value": 12}, "fill": {"value": "#000000"}}}, "symbols": {"update": {"shape": {"signal": "datum.value === 'Incorrect' ? 'M-2.2,0H2.2M-0.55,-0.55H0.55V0.55H-0.55Z' : 'M-2.2,0H2.2M0.55,0A0.55,0.55 0 1,1 -0.55,0A0.55,0.55 0 1,1 0.55,0Z'"}, "fill": {"signal": "datum.value === 'Incorrect' ? '#ff0000' : '#008000'"}, "stroke": {"signal": "datum.value === 'Incorrect' ? '#ff0000' : '#008000'"}, "strokeWidth": {"value": 1.5}, "size": {"value": 144}, "opacity": {"value": 1}}}}}}}},
  {"transform": [{"filter": "datum.series === 'Incorrect'"}], "mark": {"type": "point", "shape": "square", "filled": true, "color": "#ff0000", "opacity": 1, "size": 38}, "encoding": {
    "x": {"field": "state", "type": "quantitative", "title": "States Number", "scale": {"domain": [0.45, 12.55], "nice": false, "zero": false}, "axis": {"values": [1,2,3,4,5,6,7,8,9,10,11,12], "format": "d"}},
    "y": {"field": "value", "type": "quantitative", "title": "Normalized Distance", "scale": {"domain": [0.17, 2.35], "nice": false, "zero": false}, "axis": {"values": [0.5,1,1.5,2], "format": ".1f"}}}},
  {"transform": [{"filter": "datum.series === 'Correct'"}], "mark": {"type": "point", "shape": "circle", "filled": true, "color": "#008000", "opacity": 1, "size": 34}, "encoding": {
    "x": {"field": "state", "type": "quantitative", "title": "States Number", "scale": {"domain": [0.45, 12.55], "nice": false, "zero": false}, "axis": {"values": [1,2,3,4,5,6,7,8,9,10,11,12], "format": "d"}},
    "y": {"field": "value", "type": "quantitative", "title": "Normalized Distance", "scale": {"domain": [0.17, 2.35], "nice": false, "zero": false}, "axis": {"values": [0.5,1,1.5,2], "format": ".1f"}}}}
 ]},
{"title": "MATH-500 (T=13)", "width": 199, "height": 184, "data": {"name": "h13"},
 "layer": [
  {"transform": [{"filter": "datum.series === 'Incorrect'"}], "mark": {"type": "area", "color": "#f08080", "opacity": 0.5}, "encoding": {
    "x": {"field": "state", "type": "quantitative", "title": "States Number", "scale": {"domain": [0.4, 13.6], "nice": false, "zero": false}, "axis": {"values": [1,2,3,4,5,6,7,8,9,10,11,12,13], "format": "d"}},
    "y": {"field": "lower", "type": "quantitative", "title": "Normalized Distance", "stack": null, "scale": {"domain": [0.19, 1.90], "nice": false, "zero": false}, "axis": {"values": [0.25,0.5,0.75,1,1.25,1.5,1.75], "format": ".2f"}},
    "y2": {"field": "upper"}}},
  {"transform": [{"filter": "datum.series === 'Correct'"}], "mark": {"type": "area", "color": "#90ee90", "opacity": 0.5}, "encoding": {
    "x": {"field": "state", "type": "quantitative", "title": "States Number", "scale": {"domain": [0.4, 13.6], "nice": false, "zero": false}, "axis": {"values": [1,2,3,4,5,6,7,8,9,10,11,12,13], "format": "d"}},
    "y": {"field": "lower", "type": "quantitative", "title": "Normalized Distance", "stack": null, "scale": {"domain": [0.19, 1.90], "nice": false, "zero": false}, "axis": {"values": [0.25,0.5,0.75,1,1.25,1.5,1.75], "format": ".2f"}},
    "y2": {"field": "upper"}}},
  {"data": {"values": [{"ref": 1}]}, "mark": {"type": "rule", "color": "#0000ff", "strokeDash": [5.5, 2.4], "strokeWidth": 1.3}, "encoding": {"y": {"field": "ref", "type": "quantitative", "title": "Normalized Distance", "scale": {"domain": [0.19, 1.90], "nice": false, "zero": false}, "axis": {"values": [0.25,0.5,0.75,1,1.25,1.5,1.75], "format": ".2f"}}}},
  {"mark": {"type": "line", "strokeWidth": 1.5}, "encoding": {
    "x": {"field": "state", "type": "quantitative", "title": "States Number", "scale": {"domain": [0.4, 13.6], "nice": false, "zero": false}, "axis": {"values": [1,2,3,4,5,6,7,8,9,10,11,12,13], "format": "d"}},
    "y": {"field": "value", "type": "quantitative", "title": "Normalized Distance", "scale": {"domain": [0.19, 1.90], "nice": false, "zero": false}, "axis": {"values": [0.25,0.5,0.75,1,1.25,1.5,1.75], "format": ".2f"}},
    "color": {"field": "series", "type": "nominal", "title": null, "scale": {"domain": ["Incorrect","Correct"], "range": ["#ff0000","#008000"]}, "legend": {"title": null, "orient": "top-right", "offset": 6, "padding": 5, "fillColor": "white", "strokeColor": "#cccccc", "cornerRadius": 3, "labelFont": "Liberation Serif", "labelFontSize": 12, "labelColor": "black", "symbolSize": 144, "labelOffset": 15, "rowPadding": 4, "encode": {"legend": {"update": {"stroke": {"value": "#cccccc"}, "strokeWidth": {"value": 1}, "fill": {"value": "#ffffff"}, "cornerRadius": {"value": 3}}}, "labels": {"update": {"font": {"value": "Liberation Serif"}, "fontSize": {"value": 12}, "fill": {"value": "#000000"}}}, "symbols": {"update": {"shape": {"signal": "datum.value === 'Incorrect' ? 'M-2.2,0H2.2M-0.55,-0.55H0.55V0.55H-0.55Z' : 'M-2.2,0H2.2M0.55,0A0.55,0.55 0 1,1 -0.55,0A0.55,0.55 0 1,1 0.55,0Z'"}, "fill": {"signal": "datum.value === 'Incorrect' ? '#ff0000' : '#008000'"}, "stroke": {"signal": "datum.value === 'Incorrect' ? '#ff0000' : '#008000'"}, "strokeWidth": {"value": 1.5}, "size": {"value": 144}, "opacity": {"value": 1}}}}}}}},
  {"transform": [{"filter": "datum.series === 'Incorrect'"}], "mark": {"type": "point", "shape": "square", "filled": true, "color": "#ff0000", "opacity": 1, "size": 38}, "encoding": {
    "x": {"field": "state", "type": "quantitative", "title": "States Number", "scale": {"domain": [0.4, 13.6], "nice": false, "zero": false}, "axis": {"values": [1,2,3,4,5,6,7,8,9,10,11,12,13], "format": "d"}},
    "y": {"field": "value", "type": "quantitative", "title": "Normalized Distance", "scale": {"domain": [0.19, 1.90], "nice": false, "zero": false}, "axis": {"values": [0.25,0.5,0.75,1,1.25,1.5,1.75], "format": ".2f"}}}},
  {"transform": [{"filter": "datum.series === 'Correct'"}], "mark": {"type": "point", "shape": "circle", "filled": true, "color": "#008000", "opacity": 1, "size": 34}, "encoding": {
    "x": {"field": "state", "type": "quantitative", "title": "States Number", "scale": {"domain": [0.4, 13.6], "nice": false, "zero": false}, "axis": {"values": [1,2,3,4,5,6,7,8,9,10,11,12,13], "format": "d"}},
    "y": {"field": "value", "type": "quantitative", "title": "Normalized Distance", "scale": {"domain": [0.19, 1.90], "nice": false, "zero": false}, "axis": {"values": [0.25,0.5,0.75,1,1.25,1.5,1.75], "format": ".2f"}}}}
 ]},
{"title": "MATH-500 (T=14)", "width": 201, "height": 184, "data": {"name": "h14"},
 "layer": [
  {"transform": [{"filter": "datum.series === 'Incorrect'"}], "mark": {"type": "area", "color": "#f08080", "opacity": 0.5}, "encoding": {
    "x": {"field": "state", "type": "quantitative", "title": "States Number", "scale": {"domain": [0.35, 14.65], "nice": false, "zero": false}, "axis": {"values": [1,2,3,4,5,6,7,8,9,10,11,12,13,14], "format": "d"}},
    "y": {"field": "lower", "type": "quantitative", "title": "Normalized Distance", "stack": null, "scale": {"domain": [0.21, 2.09], "nice": false, "zero": false}, "axis": {"values": [0.5,1,1.5,2], "format": ".1f"}},
    "y2": {"field": "upper"}}},
  {"transform": [{"filter": "datum.series === 'Correct'"}], "mark": {"type": "area", "color": "#90ee90", "opacity": 0.5}, "encoding": {
    "x": {"field": "state", "type": "quantitative", "title": "States Number", "scale": {"domain": [0.35, 14.65], "nice": false, "zero": false}, "axis": {"values": [1,2,3,4,5,6,7,8,9,10,11,12,13,14], "format": "d"}},
    "y": {"field": "lower", "type": "quantitative", "title": "Normalized Distance", "stack": null, "scale": {"domain": [0.21, 2.09], "nice": false, "zero": false}, "axis": {"values": [0.5,1,1.5,2], "format": ".1f"}},
    "y2": {"field": "upper"}}},
  {"data": {"values": [{"ref": 1}]}, "mark": {"type": "rule", "color": "#0000ff", "strokeDash": [5.5, 2.4], "strokeWidth": 1.3}, "encoding": {"y": {"field": "ref", "type": "quantitative", "title": "Normalized Distance", "scale": {"domain": [0.21, 2.09], "nice": false, "zero": false}, "axis": {"values": [0.5,1,1.5,2], "format": ".1f"}}}},
  {"mark": {"type": "line", "strokeWidth": 1.5}, "encoding": {
    "x": {"field": "state", "type": "quantitative", "title": "States Number", "scale": {"domain": [0.35, 14.65], "nice": false, "zero": false}, "axis": {"values": [1,2,3,4,5,6,7,8,9,10,11,12,13,14], "format": "d"}},
    "y": {"field": "value", "type": "quantitative", "title": "Normalized Distance", "scale": {"domain": [0.21, 2.09], "nice": false, "zero": false}, "axis": {"values": [0.5,1,1.5,2], "format": ".1f"}},
    "color": {"field": "series", "type": "nominal", "title": null, "scale": {"domain": ["Incorrect","Correct"], "range": ["#ff0000","#008000"]}, "legend": {"title": null, "orient": "top-right", "offset": 6, "padding": 5, "fillColor": "white", "strokeColor": "#cccccc", "cornerRadius": 3, "labelFont": "Liberation Serif", "labelFontSize": 12, "labelColor": "black", "symbolSize": 144, "labelOffset": 15, "rowPadding": 4, "encode": {"legend": {"update": {"stroke": {"value": "#cccccc"}, "strokeWidth": {"value": 1}, "fill": {"value": "#ffffff"}, "cornerRadius": {"value": 3}}}, "labels": {"update": {"font": {"value": "Liberation Serif"}, "fontSize": {"value": 12}, "fill": {"value": "#000000"}}}, "symbols": {"update": {"shape": {"signal": "datum.value === 'Incorrect' ? 'M-2.2,0H2.2M-0.55,-0.55H0.55V0.55H-0.55Z' : 'M-2.2,0H2.2M0.55,0A0.55,0.55 0 1,1 -0.55,0A0.55,0.55 0 1,1 0.55,0Z'"}, "fill": {"signal": "datum.value === 'Incorrect' ? '#ff0000' : '#008000'"}, "stroke": {"signal": "datum.value === 'Incorrect' ? '#ff0000' : '#008000'"}, "strokeWidth": {"value": 1.5}, "size": {"value": 144}, "opacity": {"value": 1}}}}}}}},
  {"transform": [{"filter": "datum.series === 'Incorrect'"}], "mark": {"type": "point", "shape": "square", "filled": true, "color": "#ff0000", "opacity": 1, "size": 38}, "encoding": {
    "x": {"field": "state", "type": "quantitative", "title": "States Number", "scale": {"domain": [0.35, 14.65], "nice": false, "zero": false}, "axis": {"values": [1,2,3,4,5,6,7,8,9,10,11,12,13,14], "format": "d"}},
    "y": {"field": "value", "type": "quantitative", "title": "Normalized Distance", "scale": {"domain": [0.21, 2.09], "nice": false, "zero": false}, "axis": {"values": [0.5,1,1.5,2], "format": ".1f"}}}},
  {"transform": [{"filter": "datum.series === 'Correct'"}], "mark": {"type": "point", "shape": "circle", "filled": true, "color": "#008000", "opacity": 1, "size": 34}, "encoding": {
    "x": {"field": "state", "type": "quantitative", "title": "States Number", "scale": {"domain": [0.35, 14.65], "nice": false, "zero": false}, "axis": {"values": [1,2,3,4,5,6,7,8,9,10,11,12,13,14], "format": "d"}},
    "y": {"field": "value", "type": "quantitative", "title": "Normalized Distance", "scale": {"domain": [0.21, 2.09], "nice": false, "zero": false}, "axis": {"values": [0.5,1,1.5,2], "format": ".1f"}}}}
 ]},
{"title": "MATH-500 (T=15)", "width": 201, "height": 184, "data": {"name": "h15"},
 "layer": [
  {"transform": [{"filter": "datum.series === 'Incorrect'"}], "mark": {"type": "area", "color": "#f08080", "opacity": 0.5}, "encoding": {
    "x": {"field": "state", "type": "quantitative", "title": "States Number", "scale": {"domain": [0.3, 15.7], "nice": false, "zero": false}, "axis": {"values": [1,2,3,4,5,6,7,8,9,10,11,12,13,14,15], "format": "d"}},
    "y": {"field": "lower", "type": "quantitative", "title": "Normalized Distance", "stack": null, "scale": {"domain": [0.32, 2.02], "nice": false, "zero": false}, "axis": {"values": [0.5,0.75,1,1.25,1.5,1.75,2], "format": ".2f"}},
    "y2": {"field": "upper"}}},
  {"transform": [{"filter": "datum.series === 'Correct'"}], "mark": {"type": "area", "color": "#90ee90", "opacity": 0.5}, "encoding": {
    "x": {"field": "state", "type": "quantitative", "title": "States Number", "scale": {"domain": [0.3, 15.7], "nice": false, "zero": false}, "axis": {"values": [1,2,3,4,5,6,7,8,9,10,11,12,13,14,15], "format": "d"}},
    "y": {"field": "lower", "type": "quantitative", "title": "Normalized Distance", "stack": null, "scale": {"domain": [0.32, 2.02], "nice": false, "zero": false}, "axis": {"values": [0.5,0.75,1,1.25,1.5,1.75,2], "format": ".2f"}},
    "y2": {"field": "upper"}}},
  {"data": {"values": [{"ref": 1}]}, "mark": {"type": "rule", "color": "#0000ff", "strokeDash": [5.5, 2.4], "strokeWidth": 1.3}, "encoding": {"y": {"field": "ref", "type": "quantitative", "title": "Normalized Distance", "scale": {"domain": [0.32, 2.02], "nice": false, "zero": false}, "axis": {"values": [0.5,0.75,1,1.25,1.5,1.75,2], "format": ".2f"}}}},
  {"mark": {"type": "line", "strokeWidth": 1.5}, "encoding": {
    "x": {"field": "state", "type": "quantitative", "title": "States Number", "scale": {"domain": [0.3, 15.7], "nice": false, "zero": false}, "axis": {"values": [1,2,3,4,5,6,7,8,9,10,11,12,13,14,15], "format": "d"}},
    "y": {"field": "value", "type": "quantitative", "title": "Normalized Distance", "scale": {"domain": [0.32, 2.02], "nice": false, "zero": false}, "axis": {"values": [0.5,0.75,1,1.25,1.5,1.75,2], "format": ".2f"}},
    "color": {"field": "series", "type": "nominal", "title": null, "scale": {"domain": ["Incorrect","Correct"], "range": ["#ff0000","#008000"]}, "legend": {"title": null, "orient": "top-right", "offset": 6, "padding": 5, "fillColor": "white", "strokeColor": "#cccccc", "cornerRadius": 3, "labelFont": "Liberation Serif", "labelFontSize": 12, "labelColor": "black", "symbolSize": 144, "labelOffset": 15, "rowPadding": 4, "encode": {"legend": {"update": {"stroke": {"value": "#cccccc"}, "strokeWidth": {"value": 1}, "fill": {"value": "#ffffff"}, "cornerRadius": {"value": 3}}}, "labels": {"update": {"font": {"value": "Liberation Serif"}, "fontSize": {"value": 12}, "fill": {"value": "#000000"}}}, "symbols": {"update": {"shape": {"signal": "datum.value === 'Incorrect' ? 'M-2.2,0H2.2M-0.55,-0.55H0.55V0.55H-0.55Z' : 'M-2.2,0H2.2M0.55,0A0.55,0.55 0 1,1 -0.55,0A0.55,0.55 0 1,1 0.55,0Z'"}, "fill": {"signal": "datum.value === 'Incorrect' ? '#ff0000' : '#008000'"}, "stroke": {"signal": "datum.value === 'Incorrect' ? '#ff0000' : '#008000'"}, "strokeWidth": {"value": 1.5}, "size": {"value": 144}, "opacity": {"value": 1}}}}}}}},
  {"transform": [{"filter": "datum.series === 'Incorrect'"}], "mark": {"type": "point", "shape": "square", "filled": true, "color": "#ff0000", "opacity": 1, "size": 38}, "encoding": {
    "x": {"field": "state", "type": "quantitative", "title": "States Number", "scale": {"domain": [0.3, 15.7], "nice": false, "zero": false}, "axis": {"values": [1,2,3,4,5,6,7,8,9,10,11,12,13,14,15], "format": "d"}},
    "y": {"field": "value", "type": "quantitative", "title": "Normalized Distance", "scale": {"domain": [0.32, 2.02], "nice": false, "zero": false}, "axis": {"values": [0.5,0.75,1,1.25,1.5,1.75,2], "format": ".2f"}}}},
  {"transform": [{"filter": "datum.series === 'Correct'"}], "mark": {"type": "point", "shape": "circle", "filled": true, "color": "#008000", "opacity": 1, "size": 34}, "encoding": {
    "x": {"field": "state", "type": "quantitative", "title": "States Number", "scale": {"domain": [0.3, 15.7], "nice": false, "zero": false}, "axis": {"values": [1,2,3,4,5,6,7,8,9,10,11,12,13,14,15], "format": "d"}},
    "y": {"field": "value", "type": "quantitative", "title": "Normalized Distance", "scale": {"domain": [0.32, 2.02], "nice": false, "zero": false}, "axis": {"values": [0.5,0.75,1,1.25,1.5,1.75,2], "format": ".2f"}}}}
 ]}
],
"config": {
 "font": "Liberation Serif",
 "view": {"stroke": "black", "strokeWidth": 1},
 "axis": {"labelFont": "Liberation Serif", "titleFont": "Liberation Serif", "labelFontSize": 12, "labelColor": "black", "titleColor": "black", "titleFontWeight": "normal", "domain": false, "grid": false, "tickColor": "black", "tickSize": 3.5, "tickWidth": 1, "labelPadding": 2, "labelOverlap": false, "labelFlush": false, "labelBound": false},
 "axisX": {"titleFontSize": 17, "titlePadding": 2, "labelAngle": 0},
 "axisY": {"titleFontSize": 11.5, "titlePadding": 4},
 "legend": {"labelFont": "Liberation Serif", "labelFontSize": 12, "labelColor": "black"},
 "title": {"font": "Liberation Serif", "fontSize": 16.5, "fontWeight": "normal", "color": "black", "offset": 4}
}
}
